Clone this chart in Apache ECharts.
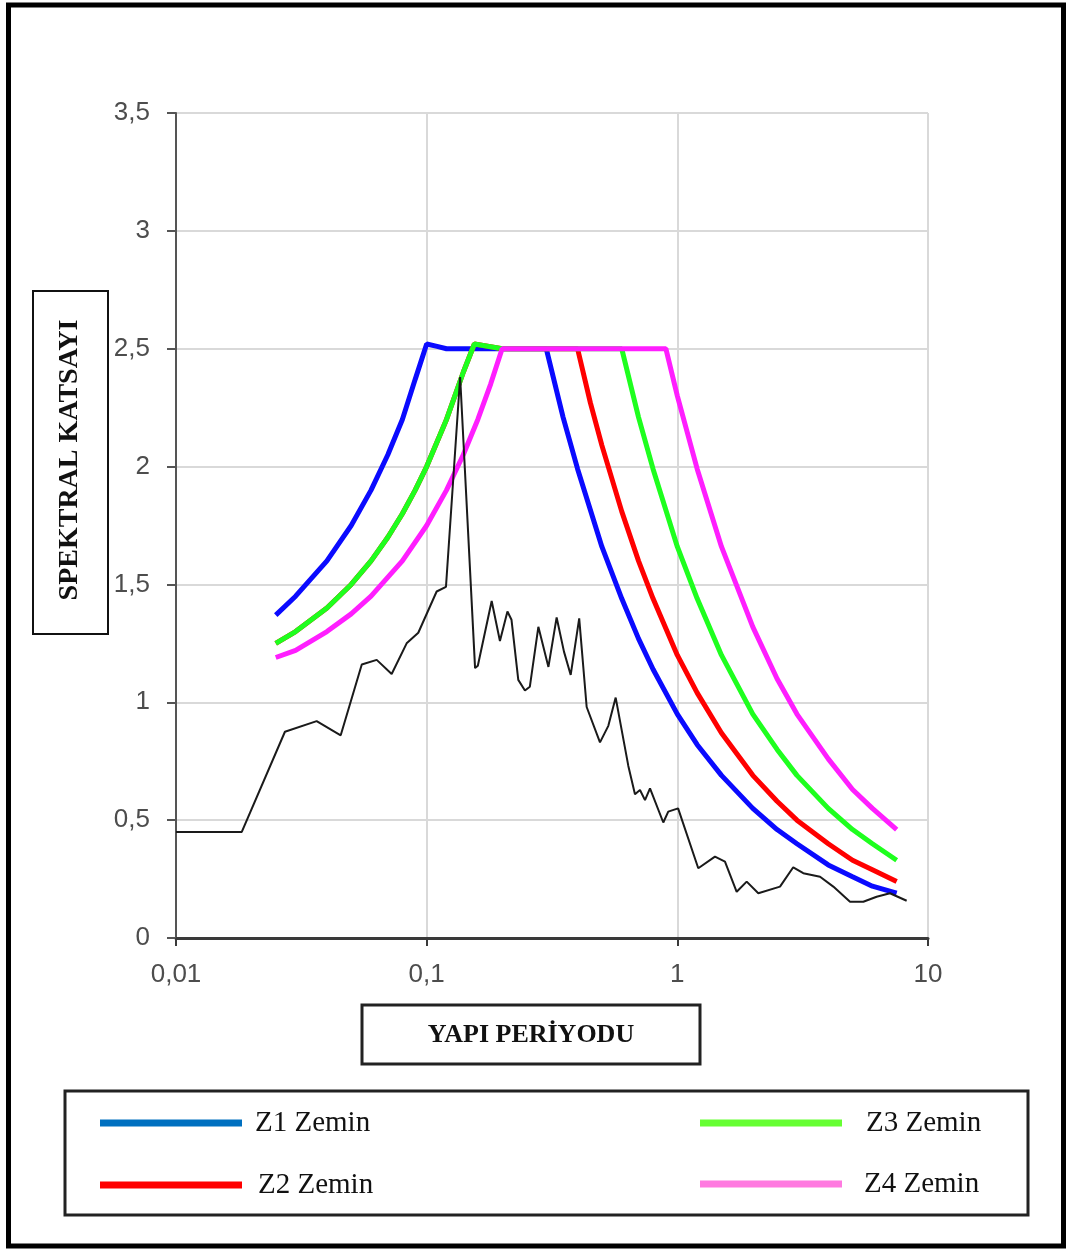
<!DOCTYPE html>
<html>
<head>
<meta charset="utf-8">
<title>Spektral Katsayi</title>
<script src="https://cdn.jsdelivr.net/npm/echarts@6/dist/echarts.min.js"></script>
<style>
    html,body{margin:0;padding:0;background:#fff;}
    #main{width:1069px;height:1251px;}
</style>
</head>
<body>
<div id="main"></div>
<script>
// periyot (s) ve spektral katsayi degerleri
var z1T=[0.025,0.03,0.04,0.05,0.06,0.07,0.08,0.09,0.1,0.11,0.12,0.2,0.3,0.35,0.4,0.5,0.6,0.7,0.8,1,1.2,1.5,2,2.5,3,4,5,6,7.5];
var z1S=[1.37,1.45,1.60,1.75,1.90,2.05,2.20,2.37,2.52,2.51,2.50,2.50,2.50,2.21,1.99,1.66,1.44,1.27,1.14,0.95,0.82,0.69,0.55,0.46,0.40,0.31,0.26,0.22,0.19];

var z2T=[0.025,0.03,0.04,0.05,0.06,0.07,0.08,0.09,0.1,0.12,0.14,0.155,0.2,0.4,0.45,0.5,0.6,0.7,0.8,1,1.2,1.5,2,2.5,3,4,5,6,7.5];
var z2S=[1.25,1.30,1.40,1.50,1.60,1.70,1.80,1.90,2.00,2.20,2.40,2.52,2.50,2.50,2.27,2.09,1.81,1.60,1.44,1.20,1.04,0.87,0.69,0.58,0.50,0.40,0.33,0.29,0.24];

var z3T=[0.025,0.03,0.04,0.05,0.06,0.07,0.08,0.09,0.1,0.12,0.14,0.155,0.2,0.6,0.7,0.8,1,1.2,1.5,2,2.5,3,4,5,6,7.5];
var z3S=[1.25,1.30,1.40,1.50,1.60,1.70,1.80,1.90,2.00,2.20,2.40,2.52,2.50,2.50,2.21,1.99,1.66,1.44,1.20,0.95,0.80,0.69,0.55,0.46,0.40,0.33];

var z4T=[0.025,0.03,0.04,0.05,0.06,0.08,0.1,0.12,0.14,0.16,0.18,0.2,0.9,1,1.2,1.5,2,2.5,3,4,5,6,7.5];
var z4S=[1.19,1.22,1.30,1.375,1.45,1.60,1.75,1.90,2.05,2.20,2.35,2.50,2.50,2.30,1.99,1.66,1.32,1.10,0.95,0.76,0.63,0.55,0.46];

// deprem kaydi (siyah egri)
var recT=[0.01,0.0183,0.0272,0.0364,0.0454,0.0551,0.0632,0.0725,0.0832,0.0926,0.1096,0.1194,0.136,0.156,0.160,0.1817,0.196,0.21,0.218,0.232,0.2466,0.258,0.279,0.306,0.330,0.353,0.3755,0.406,0.4348,0.4914,0.5305,0.5676,0.6375,0.6776,0.7096,0.743,0.778,0.879,0.92,1.007,1.212,1.413,1.549,1.725,1.891,2.104,2.568,2.90,3.18,3.71,4.19,4.885,5.52,6.24,7.05,8.22];
var recS=[0.45,0.45,0.875,0.92,0.86,1.16,1.18,1.12,1.25,1.295,1.47,1.49,2.38,1.145,1.155,1.43,1.26,1.385,1.35,1.095,1.05,1.066,1.32,1.15,1.36,1.215,1.116,1.356,0.98,0.83,0.90,1.02,0.73,0.61,0.628,0.585,0.635,0.49,0.536,0.55,0.296,0.345,0.324,0.196,0.239,0.19,0.218,0.30,0.275,0.26,0.218,0.154,0.154,0.175,0.19,0.158];

var legendNames=['Z1 Zemin','Z2 Zemin','Z3 Zemin','Z4 Zemin'];
var legendColors=['#0070c0','#ff0000','#66ff33','#ff7ae0'];

function pairs(t,s){
    var out=[];
    for (var i=0;i<t.length;i++){
        out.push([t[i],s[i]]);
    }
    return out;
}
function commaFmt(v){
    return String(v).replace('.',',');
}
function curve(name,t,s,color,w){
    return {
        name:name,
        type:'line',
        data:pairs(t,s),
        showSymbol:false,
        symbol:'none',
        animation:false,
        lineStyle:{color:color,width:w},
        itemStyle:{color:color}
    };
}

var legendGraphics=[];
var legPos=[[100,1123,255],[100,1185,258],[700,1123,866],[700,1184,864]];
for (var k=0;k<4;k++){
    legendGraphics.push({
        type:'line',
        shape:{x1:legPos[k][0],y1:legPos[k][1],x2:legPos[k][0]+142,y2:legPos[k][1]},
        style:{stroke:legendColors[k],lineWidth:7}
    });
    legendGraphics.push({
        type:'text',
        x:legPos[k][2],
        y:legPos[k][1],
        style:{text:legendNames[k],font:'29px "Liberation Serif"',fill:'#111',textVerticalAlign:'middle'}
    });
}

var option={
    backgroundColor:'#fff',
    animation:false,
    grid:{left:176,right:141,top:113,bottom:313,containLabel:false},
    xAxis:{
        type:'log',
        logBase:10,
        min:0.01,
        max:10,
        axisLine:{show:true,lineStyle:{color:'#3a3a3a',width:3}},
        axisTick:{show:true,length:8,lineStyle:{color:'#3a3a3a',width:2}},
        minorTick:{show:false},
        splitLine:{show:true,lineStyle:{color:'#d9d9d9',width:2}},
        axisLabel:{margin:24,fontSize:26,color:'#4d4d4d',fontFamily:'Liberation Sans',formatter:commaFmt}
    },
    yAxis:{
        type:'value',
        min:0,
        max:3.5,
        interval:0.5,
        axisLine:{show:true,lineStyle:{color:'#555',width:2}},
        axisTick:{show:true,length:9,lineStyle:{color:'#555',width:2}},
        splitLine:{show:true,lineStyle:{color:'#d9d9d9',width:2}},
        axisLabel:{margin:26,fontSize:26,color:'#4d4d4d',fontFamily:'Liberation Sans',formatter:commaFmt}
    },
    series:[
        curve('Z1 Zemin',z1T,z1S,'#0a0aff',5),
        curve('Z2 Zemin',z2T,z2S,'#ff0000',5),
        curve('Z3 Zemin',z3T,z3S,'#1eff1e',5),
        curve('Z4 Zemin',z4T,z4S,'#ff1eff',5),
        curve('Kayit',recT,recS,'#1a1a1a',2)
    ],
    graphic:[
        {   // dis cerceve
            type:'rect',
            shape:{x:8.5,y:5,width:1055,height:1241},
            style:{fill:'none',stroke:'#000',lineWidth:5}
        },
        {   // y ekseni basligi
            type:'rect',
            shape:{x:33,y:291,width:75,height:343},
            style:{fill:'#fff',stroke:'#111',lineWidth:2}
        },
        {
            type:'text',
            x:70,
            y:460,
            rotation:Math.PI/2,
            style:{text:'SPEKTRAL KATSAYI',font:'bold 28px "Liberation Serif"',fill:'#111',textAlign:'center',textVerticalAlign:'middle'}
        },
        {   // x ekseni basligi
            type:'rect',
            shape:{x:362,y:1005,width:338,height:59},
            style:{fill:'#fff',stroke:'#222',lineWidth:3}
        },
        {
            type:'text',
            x:531,
            y:1035,
            style:{text:'YAPI PERİYODU',font:'bold 26px "Liberation Serif"',fill:'#111',textAlign:'center',textVerticalAlign:'middle'}
        },
        {   // lejant kutusu
            type:'rect',
            shape:{x:65,y:1091,width:963,height:124},
            style:{fill:'#fff',stroke:'#222',lineWidth:3}
        }
    ].concat(legendGraphics)
};

var myChart=echarts.init(document.getElementById('main'));
option && myChart.setOption(option);
</script>
</body>
</html>
